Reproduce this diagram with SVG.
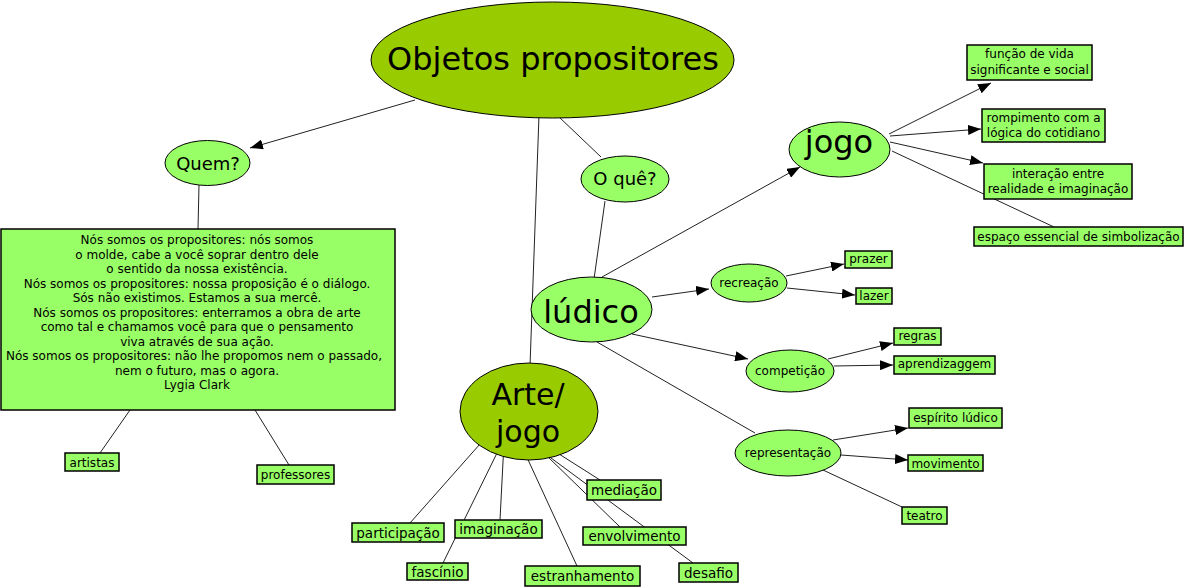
<svg xmlns="http://www.w3.org/2000/svg" width="1185" height="588" viewBox="0 0 1185 588">
<style>
text{font-family:"DejaVu Sans","Liberation Sans",sans-serif;fill:#000;text-anchor:middle}
.big{fill:#99cc00;stroke:#000;stroke-width:1}
.el{fill:#99ff66;stroke:#000;stroke-width:1}
.bx{fill:#99ff66;stroke:#000;stroke-width:1.5}
.ln{stroke:#222;stroke-width:1;fill:none}
.ar{marker-end:url(#ah)}
.s12{font-size:12px}
.s13{font-size:13.5px}
.s18{font-size:18px}
.s30{font-size:30px}
.s32{font-size:32px}
</style>
<defs>
<marker id="ah" markerUnits="userSpaceOnUse" markerWidth="14" markerHeight="10" refX="13" refY="5" orient="auto">
<path d="M0,0 L13,5 L0,10 z" fill="#000"/>
</marker>
</defs>
<rect width="1185" height="588" fill="#fff"/>
<g id="connectors">
<line class="ln ar" x1="415" y1="100" x2="250" y2="148"/>
<line class="ln" x1="199" y1="185" x2="198" y2="229"/>
<line class="ln" x1="130" y1="410" x2="100" y2="453"/>
<line class="ln" x1="255" y1="410" x2="289" y2="465"/>
<line class="ln" x1="539" y1="115" x2="530" y2="366"/>
<line class="ln" x1="558" y1="116" x2="601" y2="157"/>
<line class="ln" x1="605" y1="201" x2="594" y2="279"/>
<line class="ln ar" x1="602" y1="277" x2="800" y2="167"/>
<line class="ln ar" x1="889" y1="134" x2="991" y2="83"/>
<line class="ln ar" x1="890" y1="136" x2="981" y2="129"/>
<line class="ln ar" x1="890" y1="142" x2="983" y2="163"/>
<line class="ln" x1="892" y1="151" x2="1054" y2="227"/>
<line class="ln ar" x1="652" y1="297" x2="709" y2="289"/>
<line class="ln ar" x1="786" y1="276" x2="844" y2="264"/>
<line class="ln ar" x1="787" y1="288" x2="855" y2="295"/>
<line class="ln ar" x1="632" y1="334" x2="748" y2="359"/>
<line class="ln ar" x1="828" y1="359" x2="893" y2="343"/>
<line class="ln ar" x1="834" y1="366" x2="893" y2="365"/>
<line class="ln" x1="597" y1="342" x2="755" y2="433"/>
<line class="ln ar" x1="833" y1="440" x2="908" y2="428"/>
<line class="ln ar" x1="841" y1="455" x2="908" y2="460"/>
<line class="ln" x1="823" y1="470" x2="902" y2="507"/>
<line class="ln" x1="480" y1="444" x2="410" y2="523"/>
<line class="ln" x1="503.5" y1="452" x2="500" y2="520"/>
<line class="ln" x1="498" y1="451" x2="443" y2="563"/>
<line class="ln" x1="524" y1="451" x2="577" y2="566"/>
<line class="ln" x1="559" y1="454" x2="600" y2="480"/>
<line class="ln" x1="546" y1="455" x2="620" y2="527"/>
<line class="ln" x1="547" y1="455" x2="693" y2="563"/>
</g>
<g id="n-objetos"><ellipse class="big" cx="552.5" cy="60" rx="181.5" ry="58"/><text class="s32" x="553" y="70">Objetos propositores</text></g>
<g id="n-quem"><ellipse class="el" cx="207.5" cy="163" rx="42.5" ry="22.5"/><text class="s18" x="208" y="170">Quem?</text></g>
<g id="n-oque"><ellipse class="el" cx="625" cy="179" rx="44" ry="23"/><text class="s18" x="625" y="185">O quê?</text></g>
<g id="n-citacao"><rect class="bx" x="1" y="229" width="394" height="181"/>
<text class="s12" x="197"><tspan x="197" y="244">Nós somos os propositores: nós somos</tspan><tspan x="197" y="258.5">o molde, cabe a você soprar dentro dele</tspan><tspan x="197" y="273">o sentido da nossa existência.</tspan><tspan x="197" y="287.5">Nós somos os propositores: nossa proposição é o diálogo.</tspan><tspan x="197" y="302">Sós não existimos. Estamos a sua mercê.</tspan><tspan x="197" y="316.5">Nós somos os propositores: enterramos a obra de arte</tspan><tspan x="197" y="331">como tal e chamamos você para que o pensamento</tspan><tspan x="197" y="345.5">viva através de sua ação.</tspan><tspan x="194" y="360">Nós somos os propositores: não lhe propomos nem o passado,</tspan><tspan x="197" y="374.5">nem o futuro, mas o agora.</tspan><tspan x="197" y="389">Lygia Clark</tspan></text></g>
<g id="n-artistas"><rect class="bx" x="65" y="453" width="54" height="18"/><text class="s12" x="92" y="467">artistas</text></g>
<g id="n-professores"><rect class="bx" x="257" y="465" width="77" height="19"/><text class="s12" x="295.5" y="479">professores</text></g>
<g id="n-arte"><ellipse class="big" cx="529" cy="411.5" rx="69" ry="48.5"/><text class="s30" x="528" y="405">Arte/</text><text class="s30" x="528" y="442">jogo</text></g>
<g id="n-ludico"><ellipse class="el" cx="591.5" cy="309.5" rx="60.5" ry="32.5"/><text class="s32" x="591" y="323">lúdico</text></g>
<g id="n-jogo"><ellipse class="el" cx="839.5" cy="149.5" rx="50.5" ry="27.5"/><text class="s32" x="839" y="153">jogo</text></g>
<g id="n-funcao"><rect class="bx" x="967" y="45" width="125" height="35"/><text class="s12" x="1029.5" y="58">função de vida</text><text class="s12" x="1029.5" y="74">significante e social</text></g>
<g id="n-rompimento"><rect class="bx" x="982" y="109" width="123" height="33"/><text class="s12" x="1043.5" y="122">rompimento com a</text><text class="s12" x="1043.5" y="137">lógica do cotidiano</text></g>
<g id="n-interacao"><rect class="bx" x="984" y="164" width="148" height="35"/><text class="s12" x="1058" y="178">interação entre</text><text class="s12" x="1058" y="193">realidade e imaginação</text></g>
<g id="n-espaco"><rect class="bx" x="974" y="227" width="209" height="19"/><text class="s12" x="1078.5" y="241">espaço essencial de simbolização</text></g>
<g id="n-recreacao"><ellipse class="el" cx="749" cy="283" rx="38" ry="19"/><text class="s12" x="749" y="287">recreação</text></g>
<g id="n-prazer"><rect class="bx" x="845" y="251" width="47" height="17"/><text class="s12" x="868.5" y="263">prazer</text></g>
<g id="n-lazer"><rect class="bx" x="856" y="288" width="36" height="16"/><text class="s12" x="874" y="300">lazer</text></g>
<g id="n-competicao"><ellipse class="el" cx="790" cy="371" rx="44" ry="21"/><text class="s12" x="790" y="375">competição</text></g>
<g id="n-regras"><rect class="bx" x="894" y="328" width="47" height="17"/><text class="s12" x="917.5" y="340">regras</text></g>
<g id="n-aprendizaggem"><rect class="bx" x="894" y="356" width="101" height="18"/><text class="s12" x="944.5" y="368">aprendizaggem</text></g>
<g id="n-representacao"><ellipse class="el" cx="788" cy="453" rx="53" ry="23"/><text class="s12" x="788" y="457">representação</text></g>
<g id="n-espirito"><rect class="bx" x="909" y="408" width="93" height="20"/><text class="s12" x="955.5" y="422">espírito lúdico</text></g>
<g id="n-movimento"><rect class="bx" x="908" y="455" width="75" height="16"/><text class="s12" x="945.5" y="468">movimento</text></g>
<g id="n-teatro"><rect class="bx" x="902" y="507" width="45" height="17"/><text class="s12" x="924.5" y="520">teatro</text></g>
<g id="n-participacao"><rect class="bx" x="352" y="523" width="92" height="19"/><text class="s13" x="398" y="538">participação</text></g>
<g id="n-imaginacao"><rect class="bx" x="455" y="520" width="87" height="18"/><text class="s13" x="498.5" y="534">imaginação</text></g>
<g id="n-fascinio"><rect class="bx" x="407" y="563" width="61" height="17"/><text class="s13" x="437.5" y="577">fascínio</text></g>
<g id="n-estranhamento"><rect class="bx" x="525" y="566" width="115" height="20"/><text class="s13" x="582.5" y="581">estranhamento</text></g>
<g id="n-mediacao"><rect class="bx" x="587" y="480" width="74" height="20"/><text class="s13" x="624" y="495">mediação</text></g>
<g id="n-envolvimento"><rect class="bx" x="583" y="527" width="103" height="18"/><text class="s13" x="634.5" y="541">envolvimento</text></g>
<g id="n-desafio"><rect class="bx" x="679" y="563" width="59" height="19"/><text class="s13" x="708.5" y="578">desafio</text></g>
</svg>
